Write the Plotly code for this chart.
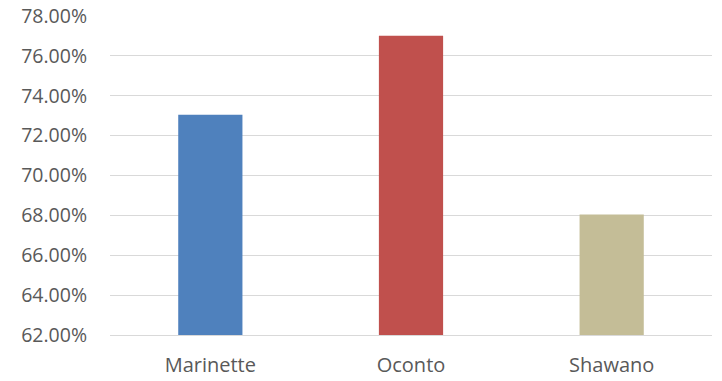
import plotly.graph_objects as go

# County share values (percent)
counties = ["Marinette", "Oconto", "Shawano"]
shares = [73.05, 77.01, 68.05]
bar_colors = ["#4F81BD", "#C0504D", "#C4BD97"]

fig = go.Figure(
    go.Bar(
        x=counties,
        y=shares,
        marker=dict(color=bar_colors, line=dict(width=0)),
        width=0.32,
    )
)

fig.update_layout(
    width=722,
    height=381,
    margin=dict(l=110, r=10, t=16, b=46),
    paper_bgcolor="white",
    plot_bgcolor="white",
    showlegend=False,
    font=dict(family="Open Sans, sans-serif", size=19.5, color="#595959"),
)

fig.update_yaxes(
    range=[62, 78],
    dtick=2,
    tickformat=".2f",
    ticksuffix="%",
    showgrid=True,
    gridcolor="#D9D9D9",
    gridwidth=1,
    zeroline=False,
    showline=False,
    ticks="",
    ticklabelstandoff=22,
    tickfont=dict(size=19.5),
    automargin=False,
)

fig.update_xaxes(
    showline=True,
    linecolor="#D9D9D9",
    linewidth=1,
    ticks="",
    ticklabelstandoff=12,
    tickfont=dict(size=20),
    automargin=False,
)

fig.write_html("out.html")
